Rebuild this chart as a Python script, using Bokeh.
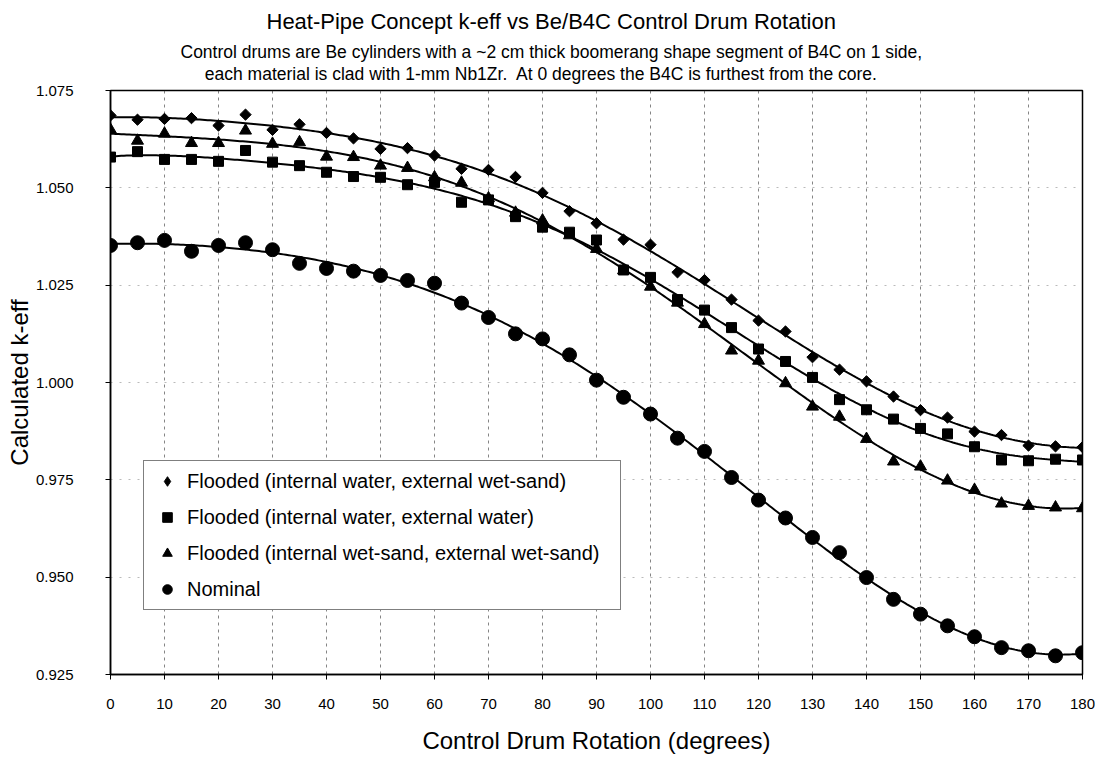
import numpy as np
from bokeh.plotting import figure
from bokeh.models import (FixedTicker, Title, Legend, LegendItem, ColumnDataSource)
from bokeh.embed import file_html
from bokeh.resources import INLINE

# ---------------- data ----------------
rotation_deg = list(range(0, 181, 5))

keff_water_wetsand = [1.0686, 1.0675, 1.0677, 1.0679, 1.0660, 1.0688, 1.0649, 1.0663, 1.0641, 1.0627,
                      1.0600, 1.0602, 1.0583, 1.0549, 1.0546, 1.0528, 1.0487, 1.0440, 1.0409, 1.0367,
                      1.0354, 1.0283, 1.0263, 1.0213, 1.0159, 1.0131, 1.0065, 1.0033, 1.0003, 0.9964,
                      0.9929, 0.9910, 0.9874, 0.9865, 0.9838, 0.9836, 0.9834]

keff_water_water = [1.0579, 1.0593, 1.0573, 1.0573, 1.0568, 1.0596, 1.0566, 1.0557, 1.0540, 1.0529,
                    1.0527, 1.0508, 1.0514, 1.0463, 1.0469, 1.0426, 1.0399, 1.0386, 1.0366, 1.0289,
                    1.0270, 1.0213, 1.0186, 1.0141, 1.0086, 1.0054, 1.0013, 0.9956, 0.9930, 0.9906,
                    0.9882, 0.9868, 0.9835, 0.9801, 0.9799, 0.9803, 0.9801]

keff_wetsand_wetsand = [1.0649, 1.0621, 1.0639, 1.0615, 1.0615, 1.0647, 1.0613, 1.0617, 1.0580, 1.0579,
                        1.0557, 1.0551, 1.0527, 1.0513, 1.0473, 1.0436, 1.0416, 1.0378, 1.0343, 1.0288,
                        1.0246, 1.0205, 1.0150, 1.0082, 1.0056, 0.9998, 0.9938, 0.9912, 0.9855, 0.9797,
                        0.9784, 0.9748, 0.9724, 0.9689, 0.9683, 0.9679, 0.9677]

keff_nominal = [1.0352, 1.0359, 1.0365, 1.0337, 1.0352, 1.0359, 1.0341, 1.0306, 1.0293, 1.0286,
                1.0275, 1.0262, 1.0255, 1.0204, 1.0167, 1.0125, 1.0112, 1.0071, 1.0006, 0.9962,
                0.9919, 0.9857, 0.9823, 0.9756, 0.9698, 0.9652, 0.9602, 0.9563, 0.9499, 0.9443,
                0.9405, 0.9375, 0.9347, 0.9319, 0.9311, 0.9298, 0.9306]

series_names = ["Flooded (internal water, external wet-sand)",
                "Flooded (internal water, external water)",
                "Flooded (internal wet-sand, external wet-sand)",
                "Nominal"]

x_ticks = list(range(0, 181, 10))
y_ticks = [0.925, 0.950, 0.975, 1.000, 1.025, 1.050, 1.075]
y_tick_labels = ["0.925", "0.950", "0.975", "1.000", "1.025", "1.050", "1.075"]

title_text = "Heat-Pipe Concept k-eff vs Be/B4C Control Drum Rotation"
subtitle_1 = "Control drums are Be cylinders with a ~2 cm thick boomerang shape segment of B4C on 1 side,"
subtitle_2 = "each material is clad with 1-mm Nb1Zr.\u00a0 At 0 degrees the B4C is furthest from the core."
x_label = "Control Drum Rotation (degrees)"
y_label = "Calculated k-eff"

# ---------------- figure ----------------
FONT = "Liberation Sans"

p = figure(frame_width=972, frame_height=584, x_range=(0, 180), y_range=(0.925, 1.075),
           output_backend="svg", toolbar_location=None,
           min_border_left=110, min_border_right=13, min_border_top=90, min_border_bottom=80)
p.title = None

# titles (left aligned with offsets so they are centred on the page, as in the original)
sub_text = subtitle_1 + "\n" + "\u00a0" * 5 + subtitle_2
t_sub = Title(text=sub_text, align="left", offset=70, text_font=FONT, text_font_size="17.5px",
              text_font_style="normal", text_color="black", standoff=10, text_line_height=1.1,
              vertical_align="top")
t_main = Title(text=title_text, align="left", offset=156, text_font=FONT, text_font_size="22px",
               text_font_style="normal", text_color="black", standoff=2, vertical_align="top")
p.add_layout(t_sub, "above")
p.add_layout(t_main, "above")

p.background_fill_color = "white"
p.border_fill_color = "white"
p.outline_line_color = "black"
p.outline_line_width = 1.5

# grid
p.xgrid.ticker = FixedTicker(ticks=x_ticks)
p.ygrid.ticker = FixedTicker(ticks=y_ticks)
p.xgrid.grid_line_color = "#333333"
p.xgrid.grid_line_dash = "3 4"
p.xgrid.grid_line_width = 1
p.xgrid.grid_line_alpha = 0.6
p.ygrid.grid_line_color = "#666666"
p.ygrid.grid_line_dash = "2 7"
p.ygrid.grid_line_width = 1
p.ygrid.grid_line_alpha = 0.45

# axes
p.xaxis.ticker = FixedTicker(ticks=x_ticks)
p.yaxis.ticker = FixedTicker(ticks=y_ticks)
p.yaxis.major_label_overrides = {v: s for v, s in zip(y_ticks, y_tick_labels)}
for ax in (p.xaxis[0], p.yaxis[0]):
    ax.axis_line_color = "black"
    ax.axis_line_width = 1.5
    ax.major_tick_line_color = "black"
    ax.major_tick_line_width = 1
    ax.major_tick_in = 0
    ax.major_tick_out = 5
    ax.minor_tick_line_color = None
    ax.major_label_text_font = FONT
    ax.major_label_text_font_size = "15px"
    ax.major_label_text_color = "black"
    ax.axis_label_text_font = FONT
    ax.axis_label_text_font_size = "24px"
    ax.axis_label_text_font_style = "normal"
    ax.axis_label_text_color = "black"

p.xaxis.axis_label = x_label
p.yaxis.axis_label = y_label
p.xaxis.major_label_standoff = 19
p.xaxis.axis_label_standoff = 15
p.yaxis.major_label_standoff = 32
p.yaxis.axis_label_standoff = 0

# ---------------- series ----------------
xs = np.array(rotation_deg, dtype=float)
series = [keff_water_wetsand, keff_water_water, keff_wetsand_wetsand, keff_nominal]
markers = ["square", "square", "triangle", "circle"]
legend_markers = ["diamond", "square", "triangle", "circle"]
angles = [np.pi / 4, 0, 0, 0]
sizes = [8, 10, 12, 14]

xfit = np.linspace(0, 180, 361)
items = []
for vals, mk, lmk, ang, sz, name in zip(series, markers, legend_markers, angles, sizes, series_names):
    coeffs = np.polyfit(xs / 180.0, np.array(vals), 6)
    yfit = np.polyval(coeffs, xfit / 180.0)
    p.line(xfit, yfit, line_color="black", line_width=2)
    src = ColumnDataSource(dict(x=rotation_deg, y=vals))
    proxy = None
    if lmk != mk:
        # same points, drawn underneath (fully covered) so the legend shows a diamond
        proxy = p.scatter("x", "y", source=src, marker=lmk, size=9,
                          fill_color="black", line_color="black")
    r = p.scatter("x", "y", source=src, marker=mk, size=sz, angle=ang,
                  fill_color="black", line_color="black")
    items.append(LegendItem(label=name, renderers=[proxy if proxy is not None else r]))

legend = Legend(items=items, location=(33, 64))
legend.label_text_font = FONT
legend.label_text_font_size = "20px"
legend.label_text_color = "black"
legend.border_line_color = "black"
legend.border_line_width = 1.2
legend.background_fill_color = "white"
legend.background_fill_alpha = 1
legend.glyph_width = 30
legend.glyph_height = 24
legend.label_standoff = 5
legend.label_width = 425
legend.spacing = 12
legend.padding = 8
legend.margin = 0
legend.label_height = 24
p.add_layout(legend, "center")

open("out.html", "w").write(file_html(p, INLINE))
